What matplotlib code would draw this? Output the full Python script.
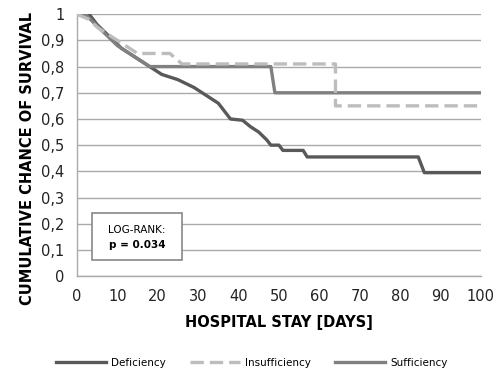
import matplotlib.pyplot as plt
from matplotlib.ticker import FuncFormatter

# Kaplan-Meier curves (day, cumulative survival)
def_days = [0, 3, 5, 7, 9, 11, 13, 15, 17, 19, 21, 23, 25, 27, 29, 31, 33, 35, 37, 38, 41, 43, 45, 47, 48, 50, 51, 56, 57, 84.5, 86, 100]
def_surv = [1, 1, 0.96, 0.93, 0.90, 0.87, 0.85, 0.83, 0.81, 0.79, 0.77, 0.76, 0.75, 0.735, 0.72, 0.70, 0.68, 0.66, 0.62, 0.60, 0.595, 0.57, 0.55, 0.52, 0.50, 0.50, 0.48, 0.48, 0.455, 0.455, 0.395, 0.395]

ins_days = [0, 3, 5, 7, 9, 11, 13, 15, 23, 26, 64, 64, 100]
ins_surv = [1, 0.98, 0.95, 0.93, 0.91, 0.89, 0.87, 0.85, 0.85, 0.81, 0.81, 0.65, 0.65]

suf_days = [0, 2, 4, 6, 8, 10, 12, 14, 16, 18, 48, 49, 100]
suf_surv = [1, 1, 0.97, 0.94, 0.91, 0.88, 0.86, 0.84, 0.82, 0.80, 0.80, 0.70, 0.70]

x_ticks = list(range(0, 101, 10))
y_ticks = [i / 10 for i in range(11)]

fig = plt.figure(figsize=(5.03, 3.83), dpi=100)
ax = fig.add_axes([0.153, 0.279, 0.803, 0.684])

ax.plot(def_days, def_surv, color='#595959', lw=2.4, label='Deficiency', zorder=3)
ax.plot(ins_days, ins_surv, color='#bdbdbd', lw=2.4, dashes=(4, 1.8), label='Insufficiency', zorder=4)
ax.plot(suf_days, suf_surv, color='#808080', lw=2.4, label='Sufficiency', zorder=3)

ax.set_xlim(0, 100)
ax.set_ylim(0, 1)
ax.set_xticks(x_ticks)
ax.set_yticks(y_ticks)
ax.yaxis.set_major_formatter(FuncFormatter(lambda v, p: '0' if v == 0 else ('1' if v == 1 else f'{v:.1f}'.replace('.', ','))))
ax.tick_params(length=0, labelsize=10.5, colors='#222222', pad=9)
ax.grid(axis='y', color='#aaaaaa', lw=1)
ax.set_axisbelow(True)
for s in ['top', 'right']:
    ax.spines[s].set_visible(False)
for s in ['left', 'bottom']:
    ax.spines[s].set_color('#aaaaaa')
    ax.spines[s].set_linewidth(1)

ax.set_xlabel('HOSPITAL STAY [DAYS]', fontsize=10.5, fontweight='bold', labelpad=8)
fig.text(28 / 503, 1 - 158 / 383, 'CUMULATIVE CHANCE OF SURVIVAL', rotation=90,
         fontsize=10.5, fontweight='bold', ha='center', va='center')

# log-rank box
ax.add_patch(plt.Rectangle((3.7, 0.061), 22.3, 0.179, facecolor='white',
                           edgecolor='#888888', lw=1.2, zorder=5))
ax.text(14.85, 0.175, 'LOG-RANK:', fontsize=7.5, ha='center', va='center', zorder=6)
ax.text(14.85, 0.12, 'p = 0.034', fontsize=7.5, fontweight='bold', ha='center', va='center', zorder=6)

fig.legend(loc='center', bbox_to_anchor=(0.5, 1 - 363 / 383), ncol=3, frameon=False,
           fontsize=7.5, handlelength=4.8, columnspacing=2.3, handletextpad=0.5)

fig.savefig('out.png', dpi=100)
